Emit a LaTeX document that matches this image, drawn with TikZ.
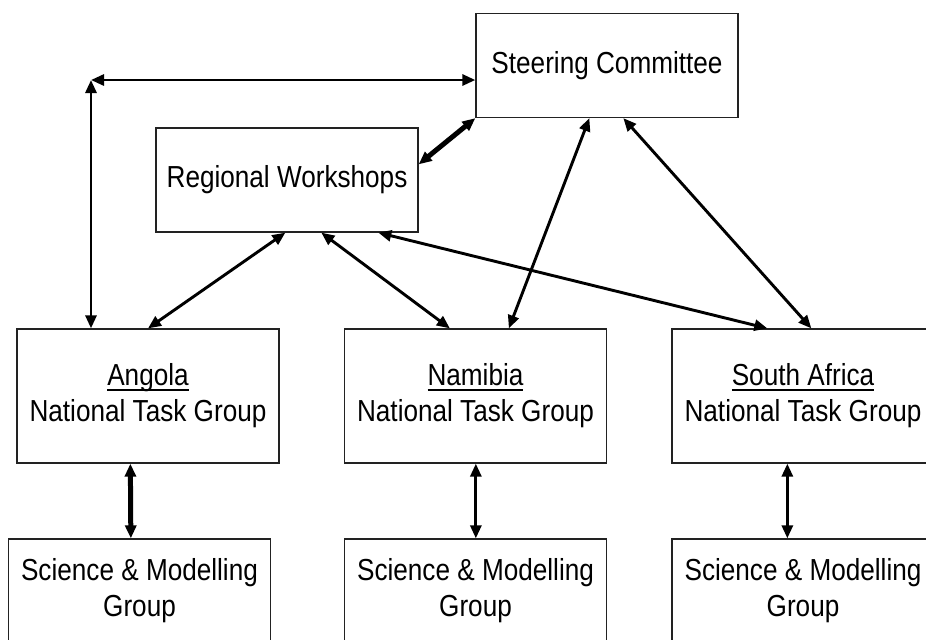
\documentclass[tikz,border=0pt]{standalone}
\usepackage{fontspec}
\setmainfont{Liberation Sans}[FakeStretch=0.86]
\usetikzlibrary{arrows.meta,positioning,calc}
\definecolor{Ink}{HTML}{000000}
\definecolor{Frame}{HTML}{222222}
\newcommand{\uline}[1]{\setbox0\hbox{#1}\rlap{\rule[-2.7pt]{\wd0}{1.1pt}}\box0}
\begin{document}
\begin{tikzpicture}[x=0.5pt,y=-0.5pt,font=\fontsize{15.2}{18}\selectfont,text=Ink,
  box/.style={draw=Frame,line width=0.65pt,fill=white,inner sep=0pt,align=center,minimum width=131pt},
  tallbox/.style={box,minimum height=67pt},
  flatbox/.style={box,minimum height=52pt},
  link/.style={Ink,line width=1.45pt,{Triangle[length=6.5pt,width=5.5pt]}-{Triangle[length=6.5pt,width=5.5pt]}},
  boldlink/.style={link,line width=2.5pt}]
\useasboundingbox[fill=white] (0,0) rectangle (926,639);
% boxes
\node[flatbox] (steer) at (607,65.5){Steering Committee};
\node[flatbox] (reg) at (287,180){Regional Workshops};
\node[tallbox] (ang) at (148,396){\uline{Angola}\\National Task Group};
\node[tallbox] (nam) at (475.5,396){\uline{Namibia}\\National Task Group};
\node[tallbox] (sa) at (803,396){\uline{South Africa}\\National Task Group};
\node[flatbox] (angsci) at (139.5,591){Science \& Modelling\\Group};
\node[flatbox] (namsci) at (475.5,591){Science \& Modelling\\Group};
\node[flatbox] (sasci) at (803,591){Science \& Modelling\\Group};
\coordinate (corner) at (91,80);
% links
\draw[link] (corner) -- (corner -| steer.west);
\draw[link] (corner) -- (corner |- ang.north);
\draw[boldlink] ($(reg.north east)+(0,37)$) -- (steer.south west);
\draw[link] ($(reg.south west)+(130,0)$) -- (ang.north);
\draw[link] ($(reg.south west)+(166,0)$) -- ($(nam.north west)+(106,0)$);
\draw[link] ($(reg.south west)+(223,0)$) -- ($(sa.north west)+(96,0)$);
\draw[link] ($(steer.south west)+(114,0)$) -- ($(nam.north west)+(165,0)$);
\draw[link] ($(steer.south west)+(148,0)$) -- ($(sa.north west)+(140,0)$);
\draw[boldlink] ($(ang.south west)+(114,0)$) -- ($(angsci.north west)+(123,0)$);
\draw[link] ($(nam.south west)+(132,0)$) -- ($(namsci.north west)+(132,0)$);
\draw[link] ($(sa.south west)+(116,0)$) -- ($(sasci.north west)+(116,0)$);
\end{tikzpicture}
\end{document}
